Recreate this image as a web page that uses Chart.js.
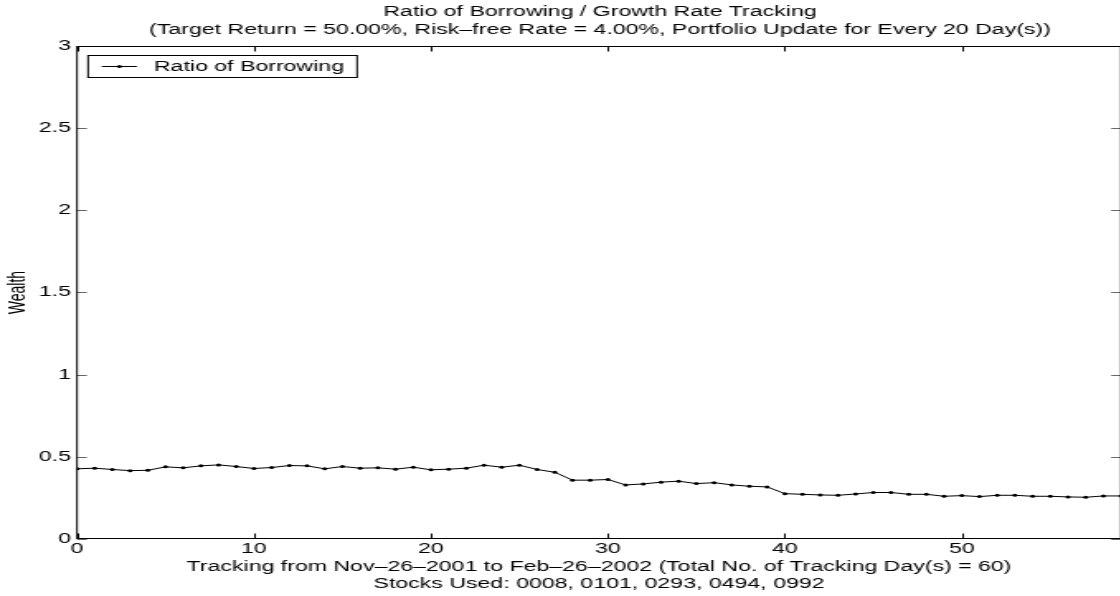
<!DOCTYPE html>
<html>
<head>
<meta charset="utf-8">
<script src="https://cdn.jsdelivr.net/npm/chart.js@4.4.1/dist/chart.umd.min.js"></script>
<style>
  html, body { margin: 0; padding: 0; background: #fff; overflow: hidden; }
  #wrap { width: 727px; height: 596px; transform: scaleX(1.6506); transform-origin: 0 0; }
</style>
</head>
<body>
<div id="wrap"><canvas id="chart" width="727" height="596"></canvas></div>
<script>
// values
const days = [0, 1, 2, 3, 4, 5, 6, 7, 8, 9,
  10, 11, 12, 13, 14, 15, 16, 17, 18, 19,
  20, 21, 22, 23, 24, 25, 26, 27, 28, 29,
  30, 31, 32, 33, 34, 35, 36, 37, 38, 39,
  40, 41, 42, 43, 44, 45, 46, 47, 48, 49,
  50, 51, 52, 53, 54, 55, 56, 57, 58, 59];
const ratioOfBorrowing = [0.427, 0.431, 0.423, 0.416, 0.418, 0.439, 0.433, 0.445, 0.451, 0.441,
  0.429, 0.435, 0.447, 0.445, 0.427, 0.441, 0.431, 0.433, 0.425, 0.437,
  0.421, 0.425, 0.431, 0.449, 0.437, 0.449, 0.423, 0.406, 0.358, 0.358,
  0.362, 0.329, 0.335, 0.346, 0.352, 0.337, 0.343, 0.329, 0.321, 0.317,
  0.276, 0.272, 0.268, 0.266, 0.274, 0.283, 0.283, 0.272, 0.272, 0.260,
  0.264, 0.258, 0.266, 0.266, 0.260, 0.260, 0.256, 0.254, 0.262, 0.262];
const seriesName = "Ratio of Borrowing";
const titleLines = ["Ratio of Borrowing / Growth Rate Tracking",
  "(Target Return = 50.00%, Risk\u2013free Rate = 4.00%, Portfolio Update for Every 20 Day(s))"];
const xTitleLines = ["Tracking from Nov\u201326\u20132001 to Feb\u201326\u20132002 (Total No. of Tracking Day(s) = 60)",
  "Stocks Used: 0008, 0101, 0293, 0494, 0992"];
const yTitle = "Wealth";

const FONT = '"Liberation Sans", Arial, Helvetica, sans-serif';

// matlab style box round the axes with inward ticks
const frameAndTicks = {
  id: "frameAndTicks",
  afterDatasetsDraw(chart) {
    const { ctx, chartArea: a, scales: { x, y } } = chart;
    const top = Math.round(a.top) + 0.5, bottom = Math.round(a.bottom) - 0.5;
    ctx.save();
    ctx.lineWidth = 1;
    ctx.strokeStyle = "#000";
    x.ticks.forEach(t => {
      const px = Math.round(x.getPixelForValue(t.value)) + 0.5;
      ctx.beginPath();
      ctx.moveTo(px, bottom); ctx.lineTo(px, bottom - 5);
      ctx.moveTo(px, top); ctx.lineTo(px, top + 5);
      ctx.stroke();
    });
    ctx.strokeStyle = "#666";
    y.ticks.forEach(t => {
      const py = Math.round(y.getPixelForValue(t.value)) + 0.5;
      ctx.beginPath();
      ctx.moveTo(a.left, py); ctx.lineTo(a.left + 6, py);
      ctx.moveTo(a.right, py); ctx.lineTo(a.right - 6, py);
      ctx.stroke();
    });
    ctx.strokeStyle = "#000";
    ctx.strokeRect(a.left, top, a.right - a.left, bottom - top);
    ctx.restore();
  }
};

// legend box in the top left corner
const boxLegend = {
  id: "boxLegend",
  afterDraw(chart) {
    const { ctx, chartArea: a } = chart;
    const ds = chart.data.datasets[0];
    const bx = a.left + 6.7, by = a.top + 9.5, cy = by + 11;
    ctx.save();
    ctx.fillStyle = "#fff";
    ctx.fillRect(bx, by, 163, 22);
    ctx.strokeStyle = "#000";
    ctx.lineWidth = 1;
    ctx.strokeRect(bx, by, 163, 22);
    ctx.beginPath();
    ctx.moveTo(a.left + 15, cy); ctx.lineTo(a.left + 36.3, cy);
    ctx.stroke();
    ctx.beginPath();
    ctx.arc(a.left + 25.7, cy, 1.5, 0, Math.PI * 2);
    ctx.fillStyle = "#000";
    ctx.fill();
    ctx.font = "14px " + FONT;
    ctx.textBaseline = "middle";
    ctx.fillText(ds.label, a.left + 46.6, cy + 0.5);
    ctx.restore();
  }
};

new Chart(document.getElementById("chart"), {
  type: "line",
  data: {
    labels: days,
    datasets: [{
      label: seriesName,
      data: ratioOfBorrowing,
      borderColor: "#000",
      borderWidth: 1,
      pointRadius: 1.5,
      pointBorderWidth: 0,
      pointBackgroundColor: "#000",
      tension: 0,
      fill: false
    }]
  },
  options: {
    responsive: false,
    animation: false,
    devicePixelRatio: 1,
    layout: { padding: 0 },
    plugins: {
      legend: { display: false },
      tooltip: { enabled: false },
      title: {
        display: true,
        text: titleLines,
        color: "#000",
        font: { family: FONT, size: 14, weight: "normal", lineHeight: 1.2857 },
        padding: { top: 3, bottom: 7 }
      }
    },
    scales: {
      x: {
        type: "linear",
        min: 0,
        max: 59,
        grid: { display: false, drawTicks: false },
        border: { display: false },
        ticks: { stepSize: 10, includeBounds: false, color: "#000", padding: 2, maxRotation: 0,
          font: { family: FONT, size: 14 } },
        title: {
          display: true,
          text: xTitleLines,
          color: "#000",
          font: { family: FONT, size: 14, lineHeight: 1.214 },
          padding: { top: 0, bottom: 3.5 }
        },
        afterFit(s) { s.height = 57; }
      },
      y: {
        min: 0,
        max: 3,
        grid: { display: false, drawTicks: false },
        border: { display: false },
        ticks: { stepSize: 0.5, color: "#000", padding: 3.6,
          font: { family: FONT, size: 14 },
          callback: v => String(v) },
        title: {
          display: true,
          text: yTitle,
          color: "#000",
          font: { family: FONT, size: 14, lineHeight: 1.2 },
          padding: { top: 2.5, bottom: 0 }
        },
        afterFit(s) { s.width = 46.65; }
      },
      yR: {
        position: "right",
        min: 0,
        max: 3,
        grid: { display: false, drawTicks: false },
        border: { display: false },
        ticks: { display: false },
        afterFit(s) { s.width = 47.8; }
      }
    }
  },
  plugins: [frameAndTicks, boxLegend]
});
</script>
</body>
</html>
